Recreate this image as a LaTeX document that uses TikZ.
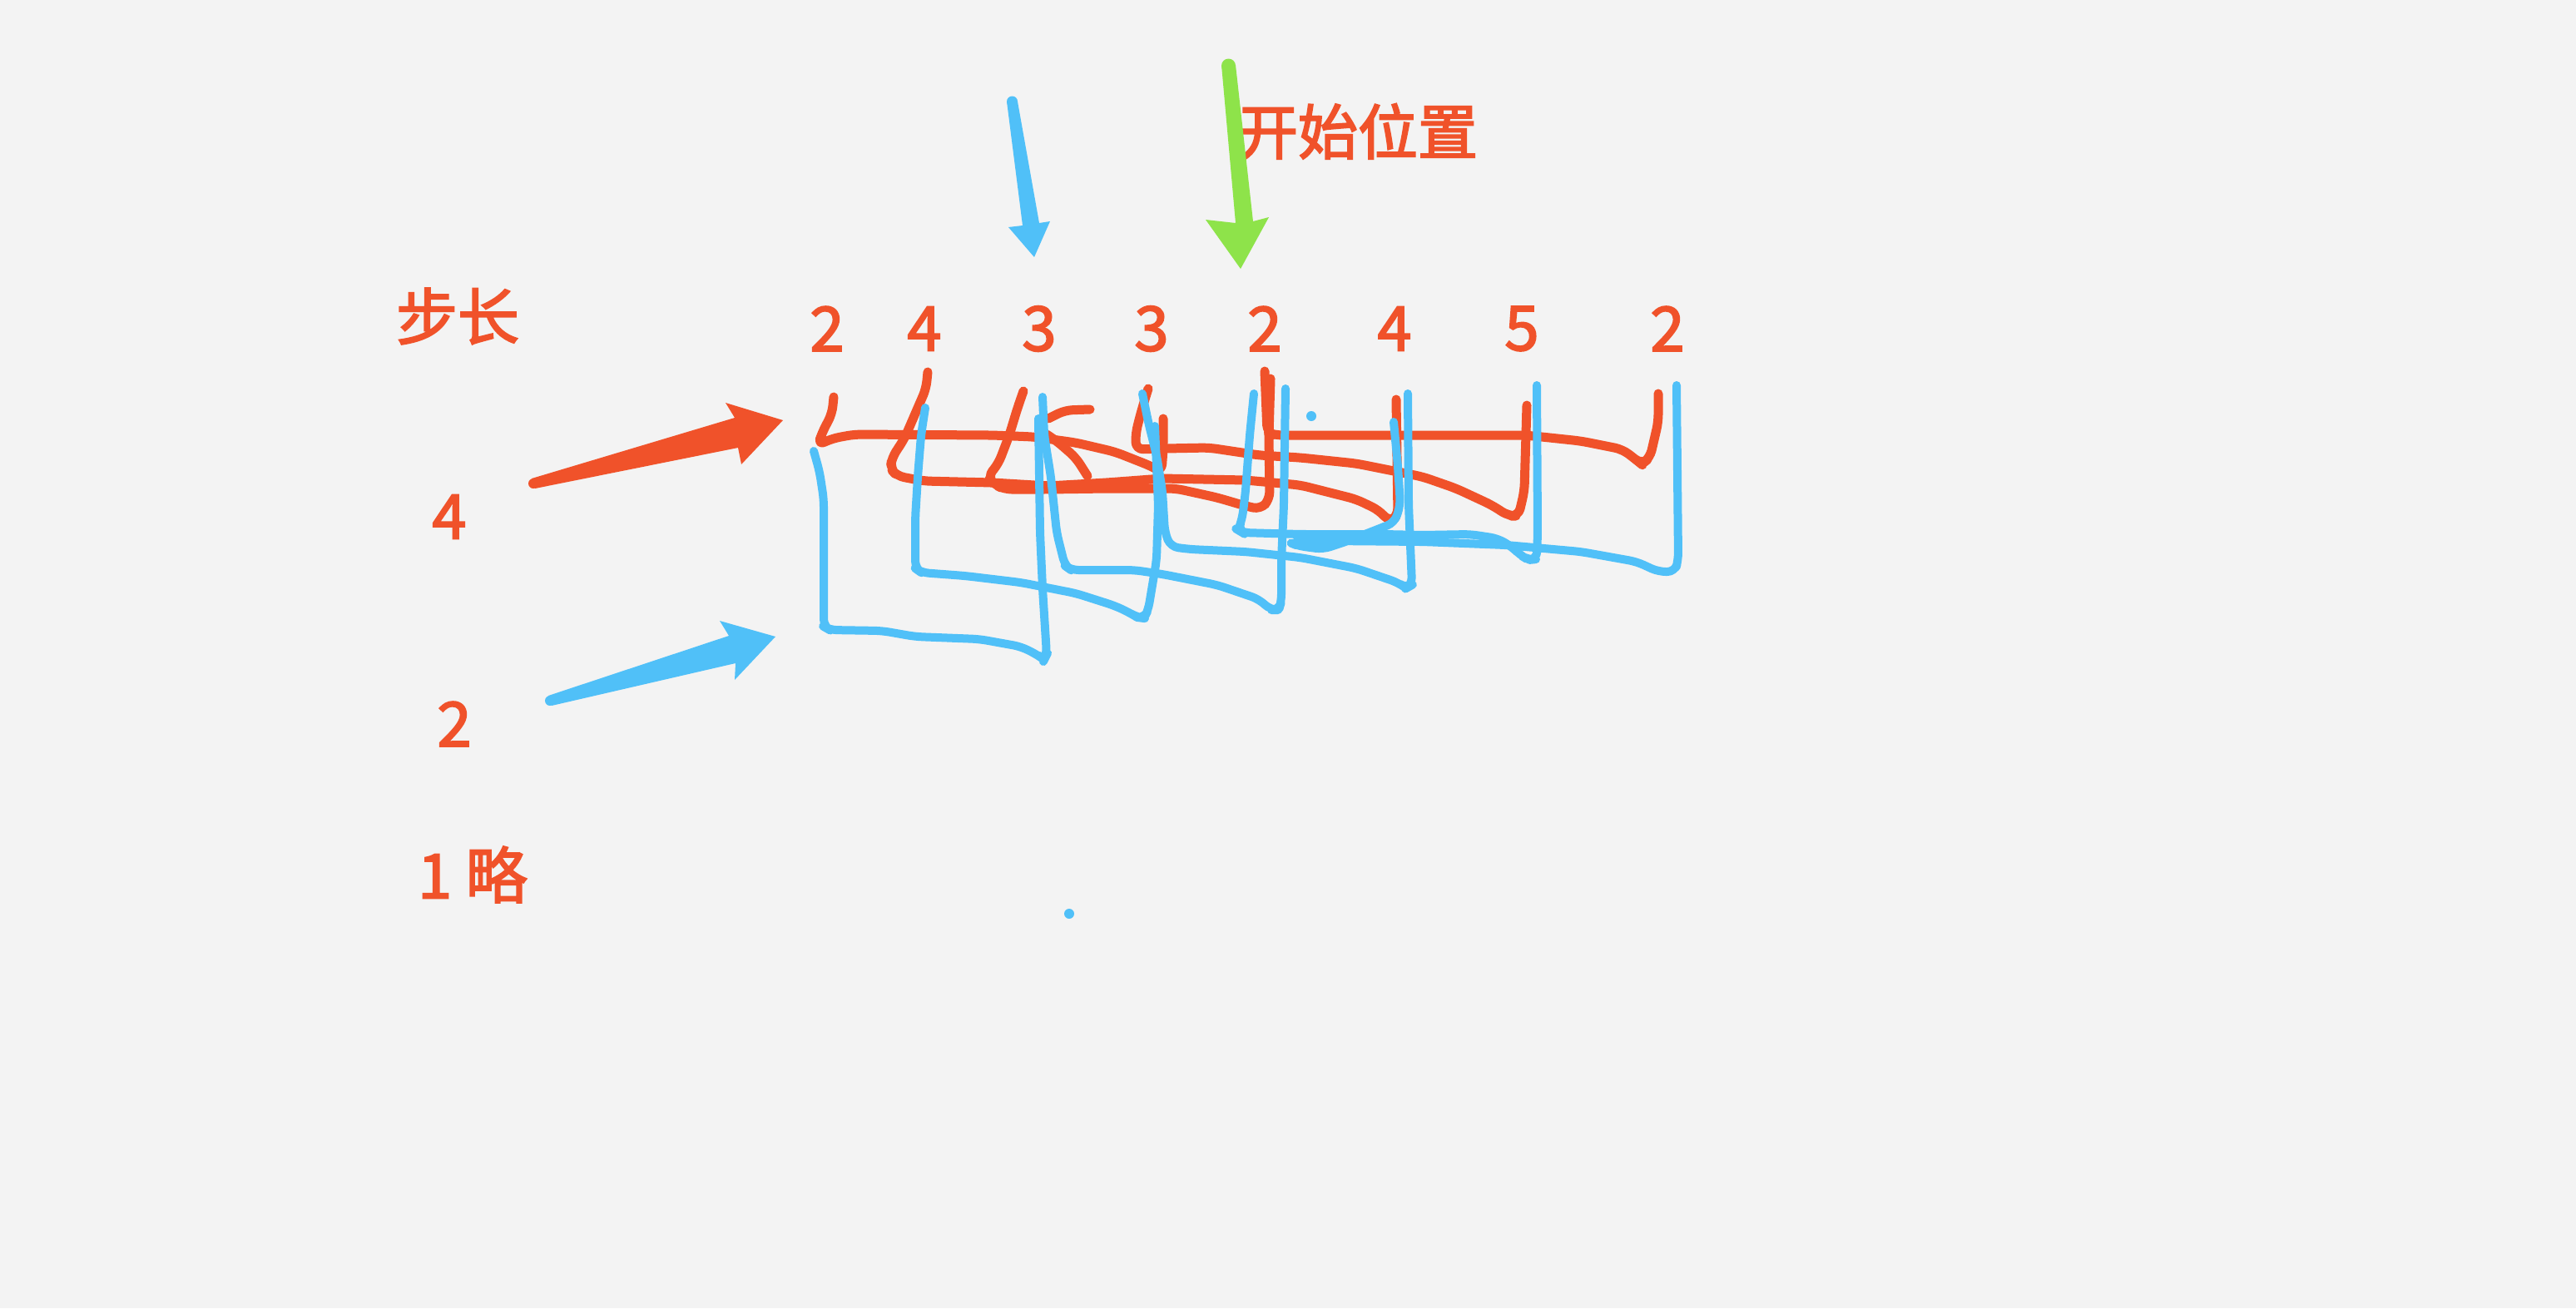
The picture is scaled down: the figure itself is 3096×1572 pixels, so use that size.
\documentclass[tikz,border=0pt]{standalone}
\usepackage{fontspec}
\setmainfont{Noto Sans CJK SC}[FakeBold=2.6]
\definecolor{bg}{HTML}{F3F3F3}
\definecolor{ored}{HTML}{F0522A}
\definecolor{sky}{HTML}{50C0F8}
\definecolor{lime}{HTML}{8EE34A}
\tikzset{
  ostroke/.style={draw=ored,line width=11pt,line cap=round,line join=round,rounded corners=9pt},
  bstroke/.style={draw=sky,line width=10pt,line cap=round,line join=round,rounded corners=9pt},
  lbl/.style={text=ored,inner sep=0pt,font=\fontsize{74}{80}\selectfont},
}
\begin{document}
\begin{tikzpicture}[x=1pt,y=-1pt]
\useasboundingbox (0,0) rectangle (3096,1572);
\fill[bg] (0,0) rectangle (3096,1572);

% labels
\node[lbl] (buchang) at (550,380) {步长};
\node[lbl,font=\fontsize{72}{78}\selectfont] (kaishi) at (1632,158) {开始位置};
\node[lbl] (d0) at (994,395) {2};
\node[lbl] (d1) at (1111,395) {4};
\node[lbl] (d2) at (1249,395) {3};
\node[lbl] (d3) at (1384,395) {3};
\node[lbl] (d4) at (1520,395) {2};
\node[lbl] (d5) at (1676,395) {4};
\node[lbl] (d6) at (1829,395) {5};
\node[lbl] (d7) at (2004,395) {2};
\node[lbl] (l4) at (540,621) {4};
\node[lbl] (l2) at (546,870) {2};
\node[lbl] (l1) at (568,1051) {1 略};

% arrows
\fill[lime] (1468,78) -- (1485,78) -- (1506,266) -- (1525,261) -- (1491,323) -- (1449,264) -- (1485,268) -- cycle;
\fill[lime] (1476.5,79) circle (8.5);
\fill[sky] (1210,122) -- (1223,122) -- (1249,268) -- (1262,266) -- (1243,309) -- (1212,273) -- (1229,271) -- cycle;
\fill[sky] (1216.5,122) circle (6.5);
\fill[ored] (639,575) -- (883,502) -- (872,484) -- (941,505) -- (891,558) -- (887,538) -- (643,587) -- cycle;
\fill[ored] (641,581) circle (6);
\fill[sky] (659,836) -- (876,764) -- (865,746) -- (932,765) -- (883,817) -- (884,797) -- (663,848) -- cycle;
\fill[sky] (661,842) circle (6);

% orange strokes
\draw[ostroke] (1002,477) -- (1000,497) -- (988,520) -- (983,535) -- (1000,527) -- (1027,522) -- (1193,523) -- (1243,525) -- (1293,532) -- (1340,543) -- (1383,560) -- (1396,567) -- (1398,540) -- (1398,503);
\draw[ostroke] (1115,447) -- (1113,467) -- (1100,497) -- (1087,527) -- (1072,550) -- (1070,563) -- (1078,572) -- (1110,578) -- (1193,580) -- (1260,584) -- (1330,580) -- (1397,575) -- (1497,577) -- (1563,583) -- (1630,600) -- (1657,613) -- (1670,627) -- (1680,620) -- (1678,480);
\draw[ostroke] (1230,470) -- (1223,490) -- (1213,523) -- (1200,557) -- (1187,573) -- (1195,582) -- (1207,588) -- (1260,588) -- (1330,587) -- (1413,587) -- (1463,598) -- (1497,608) -- (1515,612) -- (1526,600) -- (1525,523) -- (1527,455);
\draw[ostroke] (1380,467) -- (1372,493) -- (1365,520) -- (1365,540) -- (1400,539) -- (1453,538) -- (1513,547) -- (1563,550) -- (1630,557) -- (1710,573) -- (1750,587) -- (1793,607) -- (1813,620) -- (1825,620) -- (1832,590) -- (1835,487);
\draw[ostroke] (1520,446) -- (1523,520) -- (1533,523) -- (1833,523) -- (1853,525) -- (1900,530) -- (1950,540) -- (1967,553) -- (1973,558) -- (1983,550) -- (1993,507) -- (1993,473);
\draw[ostroke] (1260,503) -- (1280,493) -- (1310,492);
\draw[ostroke] (1307,572) -- (1293,550) -- (1270,530) -- (1258,522);

% blue strokes
\draw[bstroke] (978,542) -- (985,567) -- (990,600) -- (990,753) -- (997,757) -- (1060,758) -- (1100,765) -- (1177,768) -- (1227,777) -- (1247,787) -- (1255,793) -- (1258,787) -- (1253,707) -- (1250,640) -- (1248,503);
\draw[bstroke] (1112,490) -- (1107,523) -- (1103,573) -- (1100,623) -- (1100,683) -- (1107,688) -- (1160,692) -- (1227,700) -- (1293,713) -- (1340,728) -- (1357,736) -- (1367,742) -- (1375,743) -- (1380,733) -- (1390,673) -- (1392,607) -- (1388,512);
\draw[bstroke] (1253,477) -- (1255,523) -- (1263,573) -- (1270,640) -- (1280,680) -- (1287,685) -- (1340,685) -- (1363,685) -- (1397,690) -- (1463,703) -- (1513,720) -- (1527,733) -- (1537,733) -- (1540,723) -- (1540,673) -- (1543,607) -- (1545,467);
\draw[bstroke] (1373,473) -- (1380,507) -- (1390,547) -- (1397,590) -- (1400,640) -- (1407,657) -- (1430,660) -- (1497,663) -- (1563,670) -- (1630,683) -- (1680,700) -- (1690,707) -- (1697,703) -- (1693,607) -- (1692,473);
\draw[bstroke] (1507,473) -- (1502,523) -- (1497,590) -- (1493,623) -- (1488,637) -- (1493,640) -- (1563,642) -- (1663,642) -- (1710,643) -- (1767,642) -- (1800,647) -- (1817,657) -- (1827,667) -- (1837,673) -- (1847,672) -- (1848,640) -- (1847,463);
\draw[bstroke] (1675,507) -- (1680,560) -- (1683,607) -- (1676,628) -- (1620,650) -- (1590,660) -- (1560,656) -- (1550,652) -- (1600,650) -- (1710,651) -- (1810,655) -- (1833,657) -- (1900,663) -- (1967,675) -- (1993,687) -- (2013,687) -- (2017,673) -- (2015,463);

% dots
\fill[sky] (1576,500) circle (6);
\fill[sky] (1285,1098) circle (6);
\end{tikzpicture}
\end{document}
